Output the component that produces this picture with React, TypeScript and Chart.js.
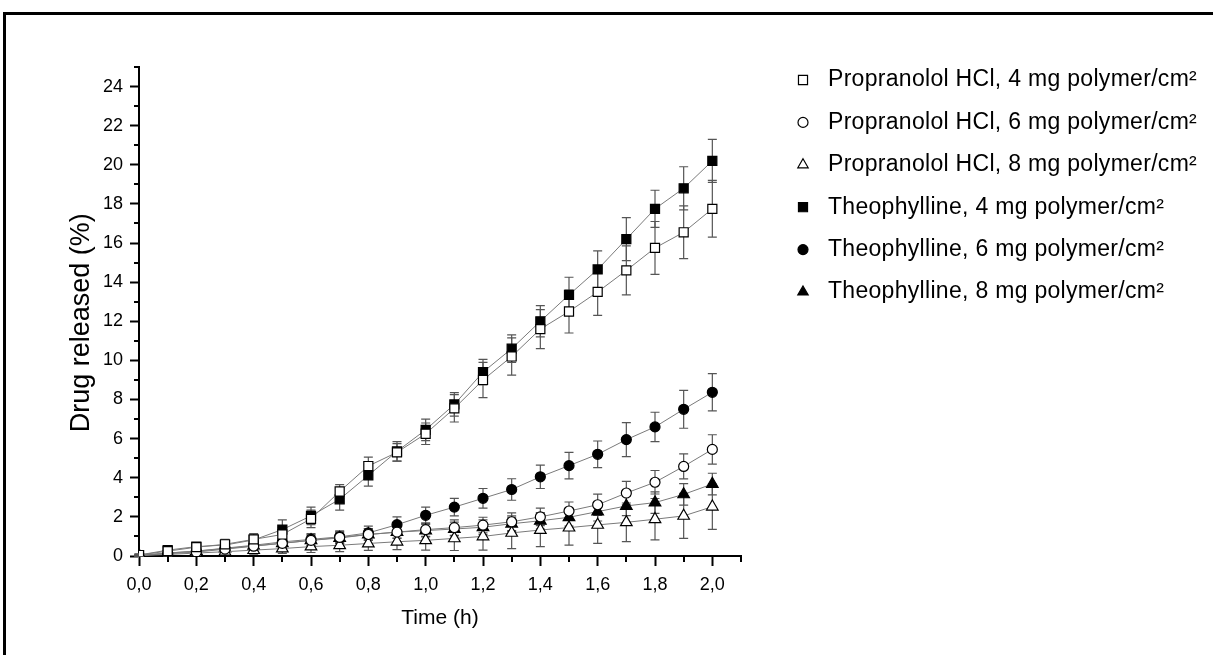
import React, { useEffect, useRef } from 'react';
import { Chart, registerables } from 'chart.js';
import { drawPoint } from 'chart.js/helpers';

Chart.register(...registerables);

// ---------- data ----------
const times = [0, 0.1, 0.2, 0.3, 0.4, 0.5, 0.6, 0.7, 0.8, 0.9, 1.0, 1.1, 1.2, 1.3, 1.4, 1.5, 1.6, 1.7, 1.8, 1.9, 2.0];

const propranolol4 = [0.05, 0.25, 0.45, 0.6, 0.85, 1.1, 1.9, 3.3, 4.6, 5.3, 6.25, 7.55, 9.0, 10.2, 11.6, 12.5, 13.5, 14.6, 15.75, 16.55, 17.75];
const propranolol4Err = [0.05, 0.1, 0.1, 0.25, 0.3, 0.35, 0.45, 0.35, 0.46, 0.45, 0.55, 0.7, 0.9, 0.95, 1.0, 1.1, 1.2, 1.25, 1.35, 1.35, 1.45];

const propranolol6 = [0.02, 0.12, 0.2, 0.35, 0.5, 0.65, 0.8, 0.95, 1.1, 1.22, 1.35, 1.45, 1.58, 1.75, 2.0, 2.3, 2.62, 3.22, 3.77, 4.58, 5.45];
const propranolol6Err = [0.03, 0.08, 0.1, 0.15, 0.2, 0.25, 0.3, 0.3, 0.3, 0.32, 0.35, 0.4, 0.4, 0.45, 0.45, 0.46, 0.54, 0.6, 0.6, 0.64, 0.75];

const propranolol8 = [0.02, 0.08, 0.15, 0.22, 0.3, 0.38, 0.48, 0.55, 0.64, 0.73, 0.8, 0.9, 1.0, 1.18, 1.33, 1.45, 1.59, 1.72, 1.88, 2.05, 2.52];
const propranolol8Err = [0.03, 0.08, 0.1, 0.15, 0.2, 0.25, 0.3, 0.33, 0.35, 0.4, 0.5, 0.62, 0.7, 0.8, 0.85, 0.89, 0.94, 0.99, 1.06, 1.15, 1.16];

const theophylline4 = [0.05, 0.3, 0.48, 0.56, 0.82, 1.35, 2.05, 2.9, 4.12, 5.35, 6.45, 7.75, 9.4, 10.6, 12.0, 13.35, 14.65, 16.2, 17.75, 18.8, 20.2];
const theophylline4Err = [0.05, 0.1, 0.1, 0.15, 0.25, 0.5, 0.45, 0.55, 0.55, 0.5, 0.55, 0.6, 0.65, 0.7, 0.8, 0.9, 0.95, 1.1, 0.95, 1.1, 1.1];

const theophylline6 = [0.03, 0.15, 0.25, 0.4, 0.55, 0.72, 0.85, 0.98, 1.18, 1.6, 2.08, 2.5, 2.95, 3.4, 4.05, 4.62, 5.2, 5.95, 6.6, 7.5, 8.37];
const theophylline6Err = [0.05, 0.1, 0.1, 0.15, 0.2, 0.25, 0.3, 0.3, 0.35, 0.4, 0.42, 0.45, 0.5, 0.55, 0.6, 0.68, 0.68, 0.87, 0.75, 0.97, 0.95];

const theophylline8 = [0.03, 0.15, 0.25, 0.38, 0.52, 0.65, 0.8, 0.92, 1.1, 1.22, 1.3, 1.38, 1.47, 1.65, 1.8, 1.98, 2.27, 2.56, 2.73, 3.15, 3.68];
const theophylline8Err = [0.03, 0.08, 0.1, 0.15, 0.2, 0.22, 0.25, 0.28, 0.3, 0.3, 0.32, 0.35, 0.38, 0.4, 0.42, 0.45, 0.48, 0.5, 0.55, 0.55, 0.55];

const seriesLabels = [
  'Propranolol HCl, 4 mg polymer/cm²',
  'Propranolol HCl, 6 mg polymer/cm²',
  'Propranolol HCl, 8 mg polymer/cm²',
  'Theophylline, 4 mg polymer/cm²',
  'Theophylline, 6 mg polymer/cm²',
  'Theophylline, 8 mg polymer/cm²',
];

const xMajorTicks = [0, 0.2, 0.4, 0.6, 0.8, 1.0, 1.2, 1.4, 1.6, 1.8, 2.0];
const yMajorTicks = [0, 2, 4, 6, 8, 10, 12, 14, 16, 18, 20, 22, 24];
const xMinorTicks = [0.1, 0.3, 0.5, 0.7, 0.9, 1.1, 1.3, 1.5, 1.7, 1.9, 2.1];
const yMinorTicks = [1, 3, 5, 7, 9, 11, 13, 15, 17, 19, 21, 23, 25];

const xTitle = 'Time (h)';
const yTitle = 'Drug released (%)';

// ---------- styling ----------
const FONT = '"Liberation Sans", Arial, Helvetica, sans-serif';
const markerRadius: Record<string, number> = { rect: 6.4, circle: 5, triangle: 6.7 };
const legendRadius: Record<string, number> = { rect: 6.4, circle: 5, triangle: 6 };

function makeDataset(label: string, values: number[], errors: number[], pointStyle: string, filled: boolean) {
  return {
    label,
    data: times.map((t, i) => ({ x: t, y: values[i] })),
    errors,
    showLine: true,
    borderColor: '#7a7a7a',
    borderWidth: 1,
    pointStyle,
    pointRadius: markerRadius[pointStyle],
    pointHoverRadius: markerRadius[pointStyle],
    pointBackgroundColor: filled ? '#000' : '#fff',
    pointBorderColor: '#000',
    pointBorderWidth: 1.2,
    fill: false,
  };
}

const errorBarPlugin = {
  id: 'errorBars',
  beforeDatasetsDraw(chart: any) {
    const { ctx } = chart;
    const xs = chart.scales.x;
    const ys = chart.scales.y;
    ctx.save();
    ctx.strokeStyle = '#555';
    ctx.lineWidth = 1.2;
    chart.data.datasets.forEach((ds: any) => {
      ds.data.forEach((p: any, i: number) => {
        const e = ds.errors[i];
        const px = xs.getPixelForValue(p.x);
        const top = ys.getPixelForValue(p.y + e);
        const bot = ys.getPixelForValue(p.y - e);
        const cap = 4.5;
        ctx.beginPath();
        ctx.moveTo(px, top);
        ctx.lineTo(px, bot);
        ctx.moveTo(px - cap, top);
        ctx.lineTo(px + cap, top);
        ctx.moveTo(px - cap, bot);
        ctx.lineTo(px + cap, bot);
        ctx.stroke();
      });
    });
    ctx.restore();
  },
};

const minorTickPlugin = {
  id: 'minorTicks',
  afterDraw(chart: any) {
    const { ctx, chartArea } = chart;
    const xs = chart.scales.x;
    const ys = chart.scales.y;
    ctx.save();
    ctx.strokeStyle = '#000';
    ctx.lineWidth = 2;
    ctx.beginPath();
    xMinorTicks.forEach((v) => {
      const px = Math.round(xs.getPixelForValue(v));
      ctx.moveTo(px, chartArea.bottom);
      ctx.lineTo(px, chartArea.bottom + 6);
    });
    yMinorTicks.forEach((v) => {
      const py = Math.round(ys.getPixelForValue(v));
      ctx.moveTo(chartArea.left, py);
      ctx.lineTo(chartArea.left - 5, py);
    });
    ctx.stroke();
    ctx.restore();
  },
};

const legendPlugin = {
  id: 'sideLegend',
  afterDraw(chart: any) {
    const { ctx, chartArea } = chart;
    ctx.save();
    chart.data.datasets.forEach((ds: any, i: number) => {
      const cy = chartArea.top + 13 + i * 42.4;
      const mx = chartArea.right + 62;
      ctx.fillStyle = ds.pointBackgroundColor;
      ctx.strokeStyle = '#000';
      ctx.lineWidth = 1.2;
      drawPoint(ctx, { pointStyle: ds.pointStyle, radius: legendRadius[ds.pointStyle], rotation: 0, borderWidth: 1.2 } as any, mx, cy);
      ctx.fillStyle = '#000';
      ctx.font = `23px ${FONT}`;
      ctx.textBaseline = 'middle';
      ctx.textAlign = 'left';
      (ctx as any).letterSpacing = '0.3px';
      ctx.fillText(ds.label, mx + 25, cy);
      (ctx as any).letterSpacing = '0px';
    });
    ctx.restore();
  },
};

export default function App() {
  const canvasRef = useRef<HTMLCanvasElement | null>(null);

  useEffect(() => {
    document.body.style.margin = '0';
    const canvas = canvasRef.current;
    if (!canvas) return;

    const datasets = [
      makeDataset(seriesLabels[0], propranolol4, propranolol4Err, 'rect', false),
      makeDataset(seriesLabels[1], propranolol6, propranolol6Err, 'circle', false),
      makeDataset(seriesLabels[2], propranolol8, propranolol8Err, 'triangle', false),
      makeDataset(seriesLabels[3], theophylline4, theophylline4Err, 'rect', true),
      makeDataset(seriesLabels[4], theophylline6, theophylline6Err, 'circle', true),
      makeDataset(seriesLabels[5], theophylline8, theophylline8Err, 'triangle', true),
    ];

    const chart = new Chart(canvas, {
      type: 'scatter',
      data: { datasets: datasets as any },
      options: {
        responsive: false,
        animation: false,
        events: [],
        layout: { padding: { left: 60, top: 67, right: 472, bottom: 0 } },
        plugins: {
          legend: { display: false },
          tooltip: { enabled: false },
          title: { display: false },
        },
        scales: {
          x: {
            type: 'linear',
            min: 0,
            max: 2.1,
            bounds: 'data',
            afterBuildTicks: (scale: any) => { scale.ticks = xMajorTicks.map((v) => ({ value: v })); },
            afterFit: (scale: any) => { scale.height = 99; },
            border: { display: true, color: '#000', width: 2 },
            grid: { display: true, drawOnChartArea: false, drawTicks: true, tickLength: 10, tickWidth: 2, tickColor: '#000', color: '#000' },
            ticks: {
              autoSkip: false,
              maxRotation: 0,
              padding: 8,
              color: '#000',
              font: { family: FONT, size: 18 },
              callback: (v: any) => Number(v).toFixed(1).replace('.', ','),
            },
            title: {
              display: true,
              text: xTitle,
              color: '#000',
              font: { family: FONT, size: 21 },
              padding: { top: 0, bottom: 24 },
            },
          },
          y: {
            type: 'linear',
            min: 0,
            max: 25,
            bounds: 'data',
            afterBuildTicks: (scale: any) => { scale.ticks = yMajorTicks.map((v) => ({ value: v })); },
            afterFit: (scale: any) => { scale.width = 79; },
            border: { display: true, color: '#000', width: 2 },
            grid: { display: true, drawOnChartArea: false, drawTicks: true, tickLength: 9, tickWidth: 2, tickColor: '#000', color: '#000' },
            ticks: {
              autoSkip: false,
              padding: 7,
              color: '#000',
              font: { family: FONT, size: 18 },
              callback: (v: any) => String(v),
            },
            title: {
              display: true,
              text: yTitle + '   ',
              color: '#000',
              font: { family: FONT, size: 27 },
              padding: { top: 5, bottom: 0 },
            },
          },
        },
      } as any,
      plugins: [errorBarPlugin, minorTickPlugin, legendPlugin],
    });

    return () => chart.destroy();
  }, []);

  return (
    <div style={{ position: 'relative', width: 1213, height: 655, background: '#fff', overflow: 'hidden' }}>
      <div
        style={{
          position: 'absolute',
          left: 3,
          top: 12,
          right: -10,
          bottom: -10,
          borderTop: '3px solid #000',
          borderLeft: '3px solid #000',
        }}
      />
      <canvas ref={canvasRef} width={1213} height={655} style={{ position: 'absolute', left: 0, top: 0, display: 'block' }} />
    </div>
  );
}
